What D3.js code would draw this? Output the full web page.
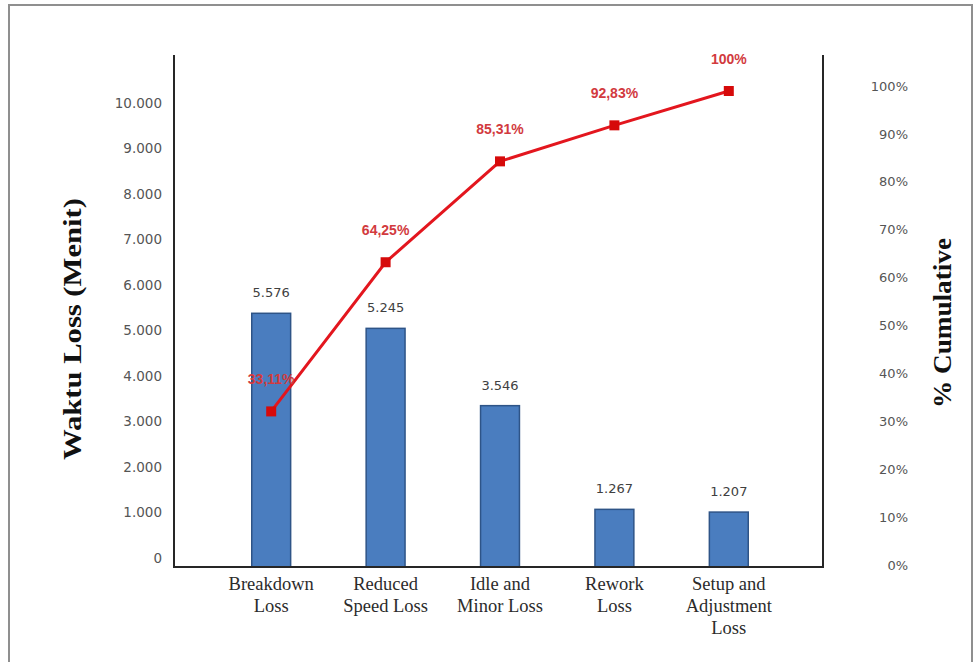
<!DOCTYPE html>
<html>
<head>
<meta charset="utf-8">
<script src="https://cdn.jsdelivr.net/npm/d3@7"></script>
<style>
  html, body { margin: 0; padding: 0; background: #fff; }
  svg { display: block; }
</style>
</head>
<body>
<svg id="chart" width="979" height="662"></svg>
<script>
// ---- data ----
const categories = ["Breakdown Loss", "Reduced Speed Loss", "Idle and Minor Loss", "Rework Loss", "Setup and Adjustment Loss"];
const categoryLines = [["Breakdown", "Loss"], ["Reduced", "Speed Loss"], ["Idle and", "Minor Loss"], ["Rework", "Loss"], ["Setup and", "Adjustment", "Loss"]];
const lossValues = [5576, 5245, 3546, 1267, 1207];
const cumulativePct = [33.11, 64.25, 85.31, 92.83, 100];
const cumulativeLabels = ["33,11%", "64,25%", "85,31%", "92,83%", "100%"];
const leftTicks = [0, 1000, 2000, 3000, 4000, 5000, 6000, 7000, 8000, 9000, 10000];
const rightTicks = [0, 10, 20, 30, 40, 50, 60, 70, 80, 90, 100];
const leftTitle = "Waktu Loss (Menit)";
const rightTitle = "% Cumulative";

// ---- layout ----
const svg = d3.select("#chart");
const axisLeftX = 174, axisRightX = 823, axisBottomY = 567, axisTopY = 55;

const idLocale = d3.formatLocale({ decimal: ",", thousands: ".", grouping: [3], currency: ["", ""] });
const fmtInt = idLocale.format(",d");

const x = d3.scaleBand().domain(categories).range([214, 786]).paddingInner(0.66).paddingOuter(0.33);
const y = d3.scaleLinear().domain([0, 10000]).range([axisBottomY, 112]);
const y2 = d3.scaleLinear().domain([0, 100]).range([570, 91]);

// frame
svg.append("rect").attr("x", 9).attr("y", 5).attr("width", 963).attr("height", 670)
  .attr("fill", "none").attr("stroke", "#8f8f8f").attr("stroke-width", 2);

// bars
svg.append("g").selectAll("rect").data(lossValues).join("rect")
  .attr("x", (d, i) => x(categories[i]))
  .attr("y", d => y(d))
  .attr("width", x.bandwidth())
  .attr("height", d => y(0) - y(d))
  .attr("fill", "#4a7dbf")
  .attr("stroke", "#2e5487")
  .attr("stroke-width", 1.5);

// bar value labels
svg.append("g").selectAll("text").data(lossValues).join("text")
  .attr("x", (d, i) => x(categories[i]) + x.bandwidth() / 2)
  .attr("y", d => y(d) - 16)
  .attr("text-anchor", "middle")
  .attr("font-family", "'DejaVu Sans', sans-serif")
  .attr("font-size", 13)
  .attr("fill", "#404040")
  .text(d => fmtInt(d));

// left axis (labels only; axis line drawn separately)
const gL = svg.append("g").attr("transform", `translate(${axisLeftX - 12},-9)`)
  .call(d3.axisLeft(y).tickValues(leftTicks).tickFormat(fmtInt).tickSize(0).tickPadding(0));
gL.select(".domain").remove();
gL.selectAll("text").attr("font-family", "'DejaVu Sans', sans-serif").attr("font-size", 13.5).attr("fill", "#555");

// right axis labels
const gR = svg.append("g").attr("transform", `translate(908,-5)`)
  .call(d3.axisLeft(y2).tickValues(rightTicks).tickFormat(d => d + "%").tickSize(0).tickPadding(0));
gR.select(".domain").remove();
gR.selectAll("text").attr("font-family", "'DejaVu Sans', sans-serif").attr("font-size", 13).attr("fill", "#555");

// axis lines
const axisStyle = sel => sel.attr("stroke", "#262626").attr("stroke-width", 2).attr("fill", "none");
svg.append("path").attr("d", `M${axisLeftX},${axisTopY}V${axisBottomY}H${axisRightX}V${axisTopY}`).call(axisStyle);

// category labels
const catG = svg.append("g");
categoryLines.forEach((lines, i) => {
  const t = catG.append("text")
    .attr("x", x(categories[i]) + x.bandwidth() / 2)
    .attr("y", 590)
    .attr("text-anchor", "middle")
    .attr("font-family", "'Liberation Serif', 'Times New Roman', serif")
    .attr("font-size", 18.5)
    .attr("fill", "#2b2b2b");
  lines.forEach((ln, j) => {
    t.append("tspan").attr("x", x(categories[i]) + x.bandwidth() / 2).attr("dy", j === 0 ? 0 : 22).text(ln);
  });
});

// cumulative line
const cx = i => x(categories[i]) + x.bandwidth() / 2;
const line = d3.line().x((d, i) => cx(i)).y(d => y2(d));
svg.append("path").datum(cumulativePct).attr("d", line)
  .attr("fill", "none").attr("stroke", "#e3161e").attr("stroke-width", 3);
svg.append("g").selectAll("rect").data(cumulativePct).join("rect")
  .attr("x", (d, i) => cx(i) - 5).attr("y", d => y2(d) - 5)
  .attr("width", 10).attr("height", 10).attr("fill", "#d60a0a");

// cumulative labels
svg.append("g").selectAll("text").data(cumulativePct).join("text")
  .attr("x", (d, i) => cx(i))
  .attr("y", d => y2(d) - 27)
  .attr("text-anchor", "middle")
  .attr("font-family", "'Liberation Sans', Arial, sans-serif")
  .attr("font-weight", "bold")
  .attr("font-size", 14)
  .attr("fill", "#d23a3e")
  .text((d, i) => cumulativeLabels[i]);

// axis titles
svg.append("text")
  .attr("transform", "translate(81,329) rotate(-90)")
  .attr("text-anchor", "middle")
  .attr("font-family", "'Liberation Serif', 'Times New Roman', serif")
  .attr("font-weight", "bold").attr("font-size", 26)
  .attr("textLength", 262).attr("lengthAdjust", "spacingAndGlyphs")
  .attr("fill", "#111")
  .text(leftTitle);
svg.append("text")
  .attr("transform", "translate(951,323) rotate(-90)")
  .attr("text-anchor", "middle")
  .attr("font-family", "'Liberation Serif', 'Times New Roman', serif")
  .attr("font-weight", "bold").attr("font-size", 26)
  .attr("textLength", 170).attr("lengthAdjust", "spacingAndGlyphs")
  .attr("fill", "#111")
  .text(rightTitle);
</script>
</body>
</html>
